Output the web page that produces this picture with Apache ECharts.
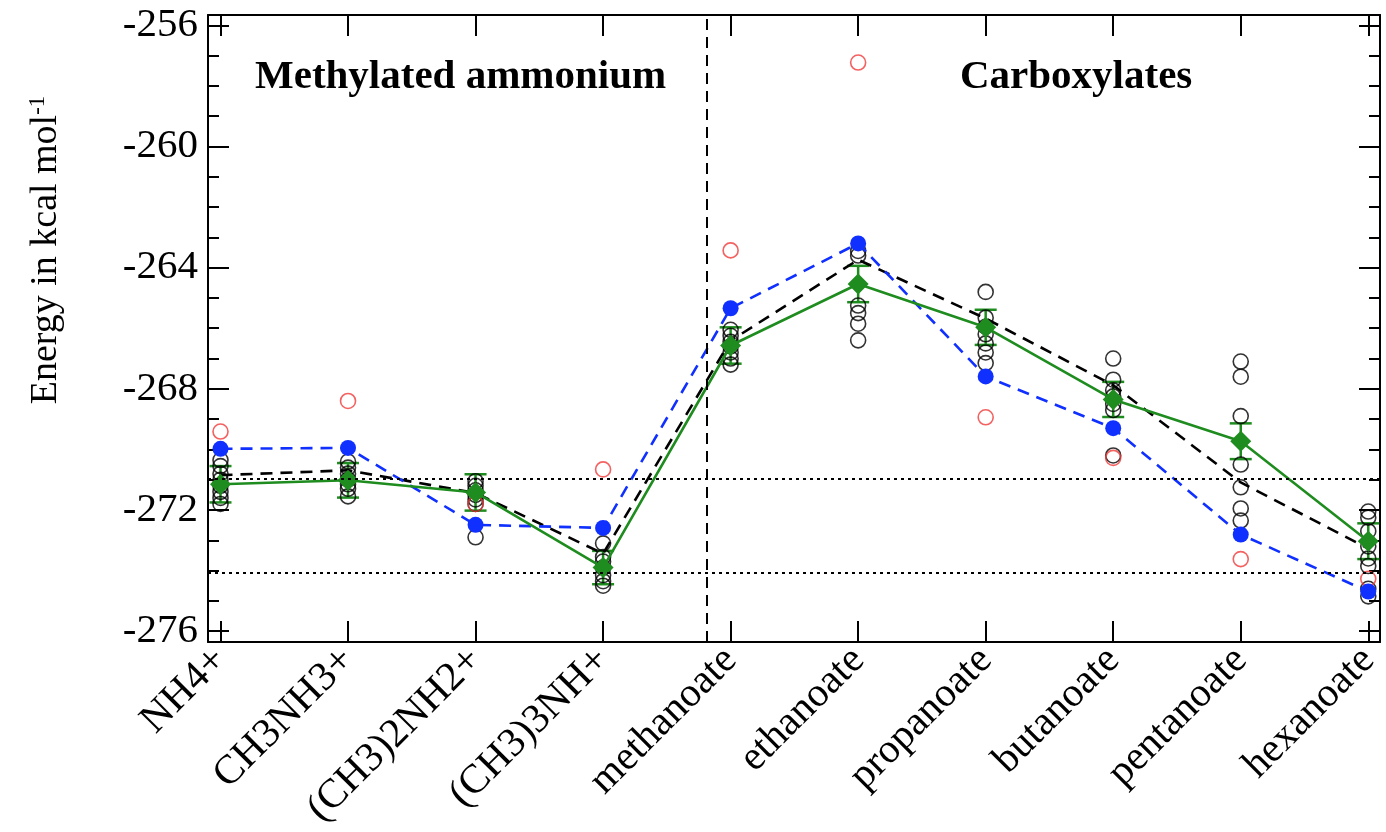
<!DOCTYPE html>
<html>
<head>
<meta charset="utf-8">
<script src="https://cdn.jsdelivr.net/npm/echarts@6/dist/echarts.min.js"></script>
<style>html,body{margin:0;padding:0;background:#fff}#c{width:1386px;height:832px}</style>
</head>
<body>
<div id="c"></div>
<script>
// ---------- data ----------
const categories = ['NH4+', 'CH3NH3+', '(CH3)2NH2+', '(CH3)3NH+', 'methanoate', 'ethanoate', 'propanoate', 'butanoate', 'pentanoate', 'hexanoate'];
const yMajorTicks = [-276, -272, -268, -264, -260, -256];
const yMinorTicks = [-276,-275,-274,-273,-272,-271,-270,-269,-268,-267,-266,-265,-264,-263,-262,-261,-260,-259,-258,-257,-256];

// individual runs (black open circles), one list per category
const runsNH4 = [-270.35, -270.55, -270.8, -271.0, -271.2, -271.4, -271.6, -271.8];
const runsCH3NH3 = [-270.4, -270.6, -270.8, -271.0, -271.15, -271.3, -271.55];
const runsCH32NH2 = [-271.05, -271.2, -271.35, -271.5, -271.65, -271.8, -272.9];
const runsCH33NH = [-273.1, -273.55, -273.7, -273.9, -274.15, -274.35, -274.5];
const runsMethanoate = [-266.05, -266.25, -266.45, -266.6, -266.8, -267.0, -267.2];
const runsEthanoate = [-263.45, -263.6, -265.25, -265.5, -265.85, -266.4];
const runsPropanoate = [-264.8, -265.65, -265.95, -266.2, -266.5, -266.8, -267.15];
const runsButanoate = [-267.0, -267.7, -268.05, -268.25, -268.5, -268.7, -270.2];
const runsPentanoate = [-267.1, -267.6, -268.9, -270.5, -271.25, -271.95, -272.35];
const runsHexanoate = [-272.05, -272.25, -272.7, -273.2, -273.6, -273.85, -274.6, -274.85];

const redValues   = [-269.41, -268.40, -271.80, -270.66, -263.43, -257.23, -268.94, -270.28, -273.62, -274.27];
const blueValues  = [-269.98, -269.95, -272.49, -272.59, -265.34, -263.20, -267.59, -269.30, -272.81, -274.69];
const blackDashed = [-270.85, -270.69, -271.44, -273.44, -266.41, -263.74, -265.68, -267.88, -271.09, -273.27];
const greenMean   = [-271.15, -271.02, -271.42, -273.90, -266.57, -264.54, -265.97, -268.35, -269.73, -273.03];
const greenErr    = [0.60, 0.57, 0.60, 0.55, 0.60, 0.60, 0.58, 0.58, 0.59, 0.59];

const hLines = [-270.97, -274.08];
const vLine = 3.81;

// ---------- build ----------
const allRuns = [runsNH4, runsCH3NH3, runsCH32NH2, runsCH33NH, runsMethanoate, runsEthanoate, runsPropanoate, runsButanoate, runsPentanoate, runsHexanoate];
const runPoints = [];
allRuns.forEach((arr, i) => arr.forEach(v => runPoints.push([i, v])));
const idx = categories.map((c, i) => i);
const pair = arr => arr.map((v, i) => [i, v]);
const errData = greenMean.map((m, i) => [i, m - greenErr[i], m + greenErr[i]]);

const SERIF = '"Liberation Serif", "DejaVu Serif", serif';
const GREEN = '#1e8c1e';
const BLUE = '#1030ff';
const XMIN = -0.098, XMAX = 9.092, YMIN = -276.36, YMAX = -255.66;

const lineStyleAxis = { color: '#000', width: 2 };
function xAx(pos, labels) {
  return {
    type: 'value', position: pos, min: XMIN, max: XMAX,
    axisLine: { show: true, onZero: false, lineStyle: lineStyleAxis },
    axisTick: { show: true, inside: true, length: 21, customValues: idx, lineStyle: { color: '#000', width: 2 } },
    axisLabel: labels ? {
      show: true, customValues: idx, rotate: 45, margin: 12,
      fontFamily: SERIF, fontSize: 41, color: '#000',
      formatter: v => categories[Math.round(v)]
    } : { show: false },
    splitLine: { show: false }
  };
}
function yAx(pos, minor, labels) {
  return {
    type: 'value', position: pos, min: YMIN, max: YMAX,
    axisLine: { show: !minor, onZero: false, lineStyle: lineStyleAxis },
    axisTick: { show: true, inside: true, length: minor ? 11 : 21, customValues: minor ? yMinorTicks : yMajorTicks, lineStyle: { color: '#000', width: 2 } },
    axisLabel: labels ? { show: true, customValues: yMajorTicks, margin: 10, fontFamily: SERIF, fontSize: 41, color: '#000' } : { show: false },
    splitLine: { show: false }
  };
}

const chart = echarts.init(document.getElementById('c'), null, { renderer: 'canvas' });
chart.setOption({
  animation: false,
  backgroundColor: '#fff',
  grid: { left: 208, right: 6, top: 15, bottom: 185, containLabel: false },
  xAxis: [xAx('bottom', true), xAx('top', false)],
  yAxis: [yAx('left', false, true), yAx('left', true, false), yAx('right', false, false), yAx('right', true, false)],
  graphic: [
    { type: 'text', x: 46, y: 250, rotation: Math.PI / 2,
      style: { text: '{a|Energy in kcal mol}{s|-1}', align: 'center', verticalAlign: 'middle', fill: '#000',
        rich: { a: { fontFamily: SERIF, fontSize: 38, fill: '#000' },
                s: { fontFamily: SERIF, fontSize: 23, fill: '#000', verticalAlign: 'top', padding: [0, 0, 16, 0] } } } },
    { type: 'text', left: 255, top: 57, style: { text: 'Methylated ammonium', font: 'bold 41px ' + SERIF, fill: '#000' } },
    { type: 'text', left: 960, top: 57, style: { text: 'Carboxylates', font: 'bold 41px ' + SERIF, fill: '#000' } }
  ],
  series: [
    { type: 'line', data: [], silent: true, symbol: 'none',
      markLine: { silent: true, symbol: 'none', label: { show: false },
        lineStyle: { color: '#000', width: 2, type: [3, 4] },
        data: hLines.map(v => ({ yAxis: v })) } },
    { type: 'line', data: [], silent: true, symbol: 'none',
      markLine: { silent: true, symbol: 'none', label: { show: false },
        lineStyle: { color: '#000', width: 2, type: [11, 7] },
        data: [{ xAxis: vLine }] } },
    { name: 'runs', type: 'scatter', data: runPoints, symbol: 'circle', symbolSize: 15,
      itemStyle: { color: 'rgba(0,0,0,0)', borderColor: '#000', borderWidth: 1.6 } },
    { name: 'red', type: 'scatter', data: pair(redValues), symbol: 'circle', symbolSize: 15,
      itemStyle: { color: 'rgba(0,0,0,0)', borderColor: '#f03a3a', borderWidth: 1.6 } },
    { name: 'blackDashed', type: 'line', data: pair(blackDashed), symbol: 'none',
      lineStyle: { color: '#000', width: 2.6, type: [12, 8] } },
    { name: 'blue', type: 'line', data: pair(blueValues), symbol: 'circle', symbolSize: 16,
      itemStyle: { color: BLUE }, lineStyle: { color: BLUE, width: 2.6, type: [12, 8] } },
    { name: 'err', type: 'custom', data: errData,
      renderItem: (params, api) => {
        const x = api.value(0);
        const top = api.coord([x, api.value(2)]);
        const bot = api.coord([x, api.value(1)]);
        const w = 11;
        const st = { stroke: GREEN, lineWidth: 2.5 };
        return { type: 'group', children: [
          { type: 'line', shape: { x1: top[0], y1: top[1], x2: bot[0], y2: bot[1] }, style: st },
          { type: 'line', shape: { x1: top[0] - w, y1: top[1], x2: top[0] + w, y2: top[1] }, style: st },
          { type: 'line', shape: { x1: bot[0] - w, y1: bot[1], x2: bot[0] + w, y2: bot[1] }, style: st }
        ] };
      } },
    { name: 'green', type: 'line', data: pair(greenMean), symbol: 'diamond', symbolSize: 21,
      itemStyle: { color: GREEN }, lineStyle: { color: GREEN, width: 2.6 } }
  ]
});
</script>
</body>
</html>
